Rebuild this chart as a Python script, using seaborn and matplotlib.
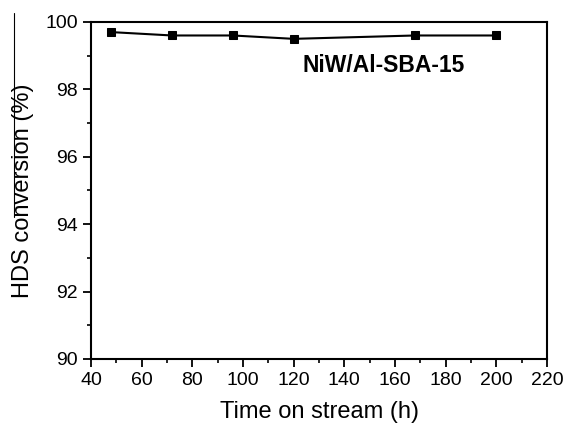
import numpy as np
import pandas as pd
import matplotlib
matplotlib.use("Agg")
import matplotlib.pyplot as plt
from matplotlib.ticker import MultipleLocator
from matplotlib.lines import Line2D
import seaborn as sns

# time on stream (h) and HDS conversion (%)
time_h = [48, 72, 96, 120, 168, 200]
conversion = [99.7, 99.6, 99.6, 99.5, 99.6, 99.6]
catalyst = "NiW/Al-SBA-15"

df = pd.DataFrame({"time": time_h, "conv": conversion})

sns.set_style("ticks")
plt.rcParams['font.family'] = ['Liberation Sans', 'DejaVu Sans']
plt.rcParams['text.color'] = 'black'
plt.rcParams['axes.labelcolor'] = 'black'

fig = plt.figure(figsize=(5.64, 4.25), dpi=100)
ax = fig.add_axes([91 / 564, 1 - 359 / 425, (547 - 91) / 564, (359 - 22) / 425])

sns.lineplot(data=df, x="time", y="conv", ax=ax, color="black", linewidth=1.5,
             marker="s", markersize=6, markeredgecolor="black")

ax.set_xlim(40, 220)
ax.set_ylim(90, 100)
ax.xaxis.set_major_locator(MultipleLocator(20))
ax.xaxis.set_minor_locator(MultipleLocator(10))
ax.yaxis.set_major_locator(MultipleLocator(2))
ax.yaxis.set_minor_locator(MultipleLocator(1))
ax.tick_params(which="major", direction="out", length=5.5, width=1.3, labelsize=14,
               colors="black", labelcolor="black", pad=4)
ax.tick_params(which="minor", direction="out", length=3, width=1.2, colors="black")

for s in ax.spines.values():
    s.set_visible(True)
    s.set_linewidth(1.5)
    s.set_color("black")

ax.set_xlabel("Time on stream (h)", fontsize=17, color="black")
ax.set_ylabel("HDS conversion (%)", fontsize=17, color="black")
ax.xaxis.set_label_coords(0.5, -(412 - 359) / 337)
ax.xaxis.label.set_va("center")
ax.yaxis.set_label_coords((23 - 91) / 456, 0.5)
ax.yaxis.label.set_va("center")

ax.text(123.3, 98.71, catalyst, fontsize=16.5, fontweight="bold", va="center", ha="left",
        color="black")

# thin stray line over the y label, as in the scan
fig.add_artist(Line2D([13.5 / 564, 13.5 / 564], [1 - 13 / 425, 1 - 217 / 425],
                      transform=fig.transFigure, color="black", linewidth=0.8))

fig.savefig("out.png", dpi=100)
